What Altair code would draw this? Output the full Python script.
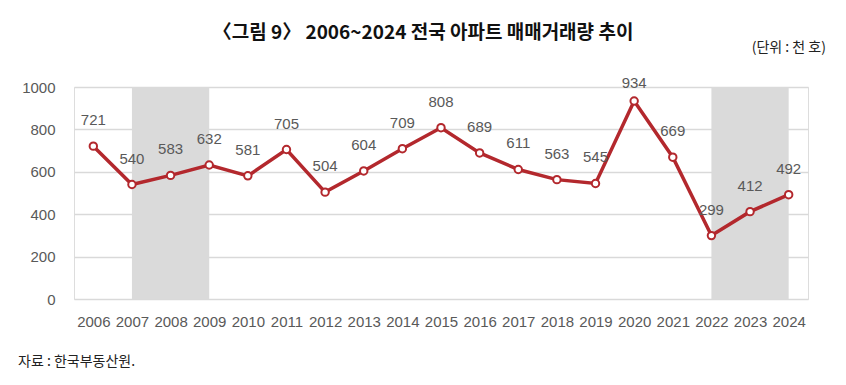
import altair as alt
import pandas as pd

years = list(range(2006, 2025))
values = [721, 540, 583, 632, 581, 705, 504, 604, 709, 808, 689, 611, 563, 545, 934, 669, 299, 412, 492]
shade_start = [2007, 2022]
shade_end = [2009, 2024]
y_ticks = [0, 200, 400, 600, 800, 1000]

title_text = "〈그림 9〉 2006~2024 전국 아파트 매매거래량 추이"
unit_text = "(단위 : 천 호)"
source_text = "자료 : 한국부동산원."

df = pd.DataFrame({"year": years, "value": values})
shade = pd.DataFrame({"start": shade_start, "end": shade_end})

NUM_FONT = "Liberation Sans Narrow, Arial Narrow, Liberation Sans, sans-serif"
LBL_FONT = "Liberation Sans, Arial, sans-serif"
KR_FONT = "Noto Sans CJK KR, sans-serif"
RED = "#b3282d"
GREY_TXT = "#595959"

xscale = alt.Scale(domain=[2005.5, 2024.5], nice=False, zero=False)
yscale = alt.Scale(domain=[0, 1000], nice=False)

xaxis = alt.Axis(values=years, format="d", title=None, grid=False, domain=False, ticks=False,
                 labelFont=NUM_FONT, labelFontSize=15, labelColor=GREY_TXT, labelPadding=15,
                 labelAngle=0)
yaxis = alt.Axis(values=y_ticks, format="d", title=None, domain=False, ticks=False, grid=True,
                 gridColor="#d9d9d9", gridWidth=1.5,
                 labelFont=NUM_FONT, labelFontSize=15, labelColor=GREY_TXT, labelPadding=19)

base = alt.Chart(df)

bands = alt.Chart(shade).mark_rect(color="#dadada").encode(
    x=alt.X("start:Q", scale=xscale, axis=xaxis),
    x2="end:Q",
    y=alt.datum(0, scale=yscale, axis=yaxis),
    y2=alt.datum(1000),
)

line = base.mark_line(color=RED, strokeWidth=3.5).encode(
    x=alt.X("year:Q", scale=xscale),
    y=alt.Y("value:Q", scale=yscale),
)

points = base.mark_point(shape="circle", filled=True, fill="white", stroke=RED,
                         strokeWidth=2, size=55, opacity=1).encode(
    x=alt.X("year:Q", scale=xscale),
    y=alt.Y("value:Q", scale=yscale),
)

labels = base.transform_filter(alt.datum.value < 900).mark_text(
    font=LBL_FONT, fontSize=15, color=GREY_TXT, baseline="middle", dy=-26
).encode(
    x=alt.X("year:Q", scale=xscale),
    y=alt.Y("value:Q", scale=yscale),
    text=alt.Text("value:Q"),
)

labels_top = base.transform_filter(alt.datum.value >= 900).mark_text(
    font=LBL_FONT, fontSize=15, color=GREY_TXT, baseline="middle", dy=-18
).encode(
    x=alt.X("year:Q", scale=xscale),
    y=alt.Y("value:Q", scale=yscale),
    text=alt.Text("value:Q"),
)

title = alt.Chart(pd.DataFrame({"t": [title_text]})).mark_text(
    font=KR_FONT, fontSize=19, fontWeight="bold", color="#111111", align="center", baseline="middle"
).encode(x=alt.value(349), y=alt.value(-54), text="t:N")

unit = alt.Chart(pd.DataFrame({"t": [unit_text]})).mark_text(
    font=KR_FONT, fontSize=14, color="#222222", align="right", baseline="middle"
).encode(x=alt.value(752), y=alt.value(-39), text="t:N")

source = alt.Chart(pd.DataFrame({"t": [source_text]})).mark_text(
    font=KR_FONT, fontSize=14, color="#222222", align="left", baseline="middle"
).encode(x=alt.value(-56), y=alt.value(275), text="t:N")

chart = alt.layer(bands, line, points, labels, labels_top, title, unit, source).properties(
    width=734,
    height=212,
    autosize=alt.AutoSizeParams(type="none"),
    padding={"left": 66, "top": 79, "right": 30, "bottom": 76},
).configure_view(stroke=None).configure(background="white")

chart.save("out.html", embed_options={"renderer": "svg", "actions": False})
